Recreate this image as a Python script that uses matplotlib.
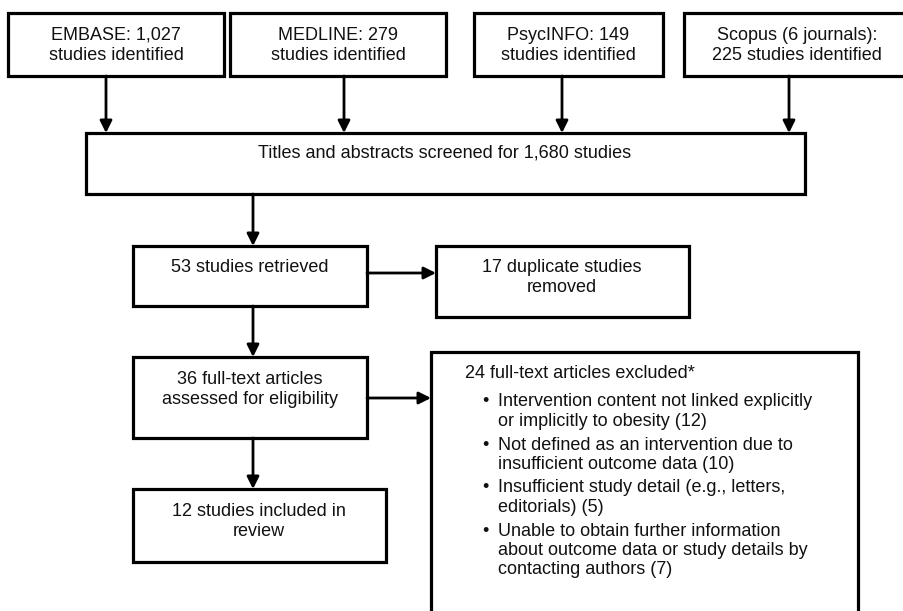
import matplotlib
matplotlib.use('Agg')
import matplotlib.pyplot as plt
from matplotlib.patches import Rectangle

plt.rcParams['font.family'] = ['Liberation Sans', 'DejaVu Sans']

# flow chart content
source_lines = [
    ['EMBASE: 1,027', 'studies identified'],
    ['MEDLINE: 279', 'studies identified'],
    ['PsycINFO: 149', 'studies identified'],
    ['Scopus (6 journals):', '225 studies identified'],
]
screened_lines = ['Titles and abstracts screened for 1,680 studies']
retrieved_lines = ['53 studies retrieved']
duplicate_lines = ['17 duplicate studies', 'removed']
assessed_lines = ['36 full-text articles', 'assessed for eligibility']
included_lines = ['12 studies included in', 'review']
excluded_header = '24 full-text articles excluded*'
excluded_reasons = [
    ['Intervention content not linked explicitly', 'or implicitly to obesity (12)'],
    ['Not defined as an intervention due to', 'insufficient outcome data (10)'],
    ['Insufficient study detail (e.g., letters,', 'editorials) (5)'],
    ['Unable to obtain further information',
     'about outcome data or study details by', 'contacting authors (7)'],
]

W, H = 904, 611
FS = 13
BOX_LW = 2.3
ARR_LW = 2.0

fig = plt.figure(figsize=(W / 100, H / 100), dpi=100)
ax = fig.add_axes([0, 0, 1, 1])
ax.set_xlim(0, W)
ax.set_ylim(H, 0)
ax.axis('off')


def box(x0, y0, x1, y1):
    ax.add_patch(Rectangle((x0, y0), x1 - x0, y1 - y0, fill=False,
                           edgecolor='black', lw=BOX_LW, joinstyle='miter'))


def open_box(xs, ys):
    # box running off the page: draw as an open outline so corners stay mitred
    ax.plot(xs, ys, color='black', lw=BOX_LW, solid_joinstyle='miter',
            solid_capstyle='butt', clip_on=False)


def lines_at(x, y, lines, step=21, ha='center'):
    for i, s in enumerate(lines):
        ax.text(x, y + i * step, s, ha=ha, va='center', fontsize=FS,
                color='#111111')


def arrow(x0, y0, x1, y1):
    ax.annotate('', xy=(x1, y1), xytext=(x0, y0),
                arrowprops=dict(arrowstyle='-|>,head_length=0.4,head_width=0.2',
                                mutation_scale=18, lw=ARR_LW, color='black',
                                shrinkA=0, shrinkB=0))


# top row of sources
src_boxes = [(8, 224), (230, 446), (474, 663)]
src_text_x = [116, 338, 568, 797]
src_arrow_x = [106, 344, 562, 789]
for x0, x1 in src_boxes:
    box(x0, 13, x1, 76)
open_box([910, 684, 684, 910], [13, 13, 76, 76])
for tx, axx, lines in zip(src_text_x, src_arrow_x, source_lines):
    lines_at(tx, 35, lines, step=21)
    arrow(axx, 76, axx, 133)

# screening
box(86, 133, 805, 194)
lines_at(445, 153, screened_lines)
arrow(253, 194, 253, 246)

# retrieved
box(133, 246, 367, 306)
lines_at(250, 267, retrieved_lines)
arrow(367, 273, 436, 273)

box(436, 246, 689, 317)
lines_at(562, 268, duplicate_lines, step=20)
arrow(253, 306, 253, 357)

# assessed
box(133, 357, 367, 438)
lines_at(250, 379, assessed_lines, step=21)
arrow(367, 398, 431, 398)
arrow(253, 438, 253, 489)

# included
box(133, 489, 386, 562)
lines_at(259, 511, included_lines, step=20)

# excluded (runs past the bottom edge)
open_box([431, 431, 858, 858], [620, 352, 352, 620])
ax.text(465, 373, excluded_header, ha='left', va='center', fontsize=FS,
        color='#111111')
y = 402
for reason in excluded_reasons:
    ax.text(485, y, '\u2022', ha='center', va='center', fontsize=FS,
            color='#111111')
    lines_at(498, y, reason, step=19.5, ha='left')
    y += 19.5 * len(reason) + 4

fig.savefig('out.png', dpi=100)
